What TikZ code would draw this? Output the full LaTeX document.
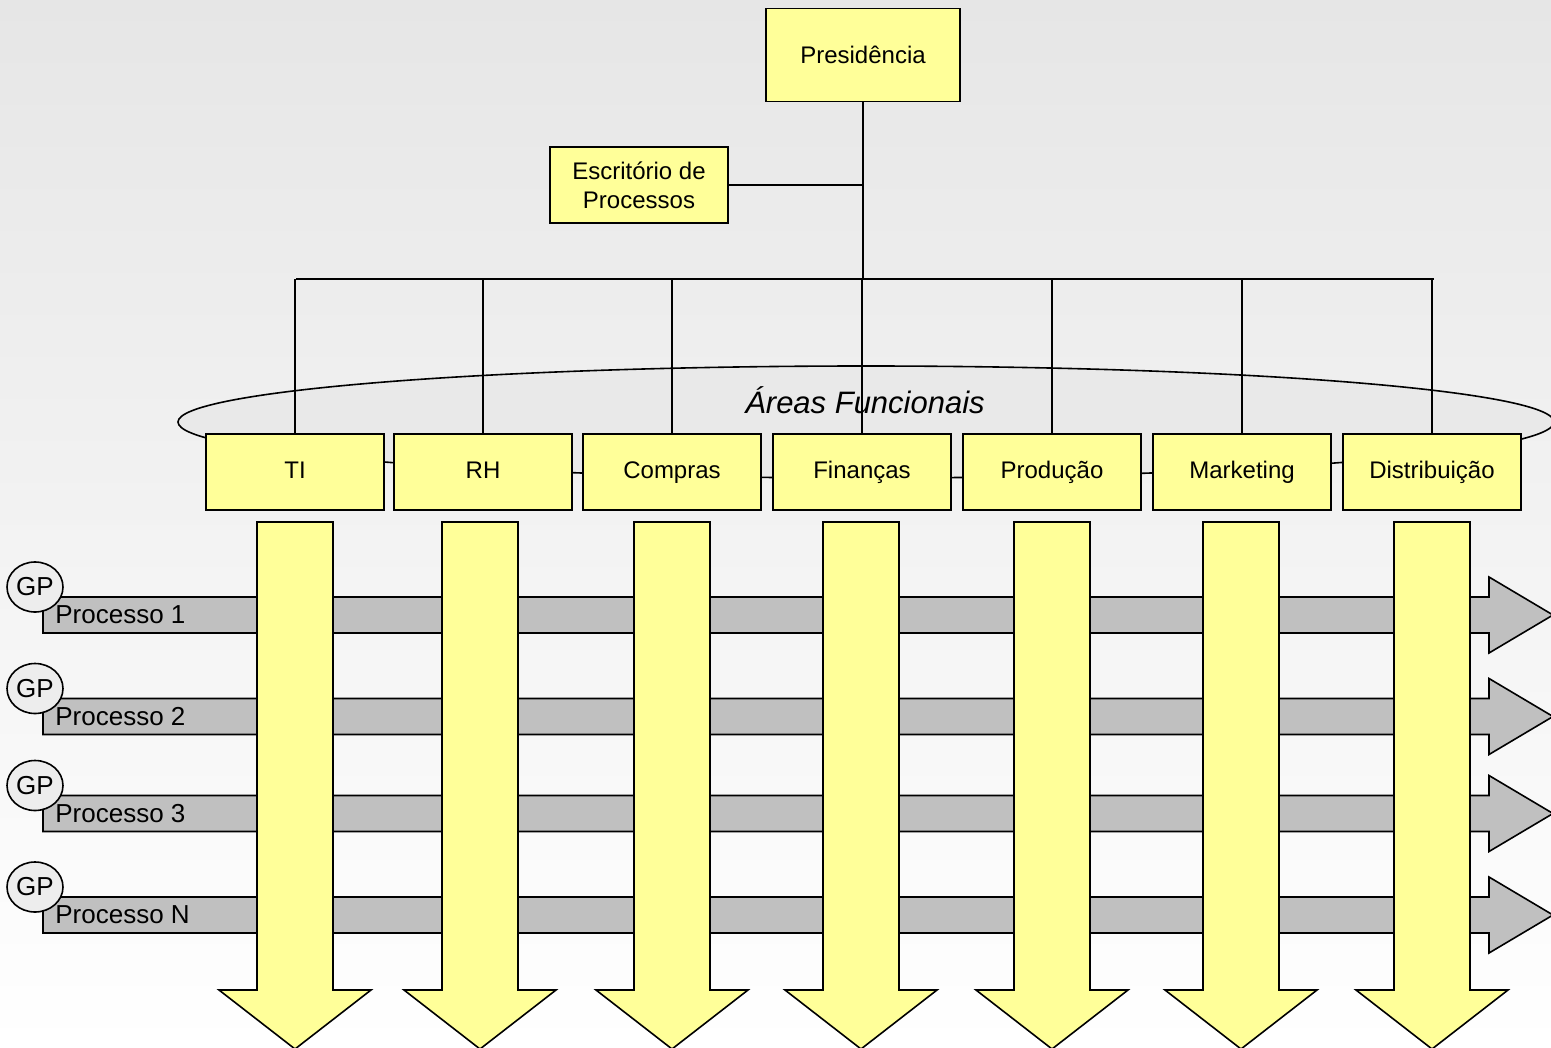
\documentclass[tikz,border=0pt]{standalone}
\usepackage{fontspec}
\setmainfont{Liberation Sans}
\usetikzlibrary{positioning,shapes.geometric}
\definecolor{amarelo}{HTML}{FFFF99}
\definecolor{cinza}{HTML}{C0C0C0}
\definecolor{fundo}{HTML}{E6E6E6}
\definecolor{elipse}{HTML}{E9E9E9}
\definecolor{bolinha}{HTML}{EDEDED}
\tikzset{
  caixa/.style={draw,fill=amarelo,line width=0.8pt,minimum width=89pt,minimum height=38pt,inner sep=0pt,align=center,font=\fontsize{12pt}{14.5pt}\selectfont},
  area/.style={caixa,text height=1.7ex,text depth=0.5ex},
  seta/.style={draw,line width=0.8pt,line join=miter},
  gp/.style={ellipse,draw,fill=bolinha,line width=0.8pt,minimum width=28pt,minimum height=25pt,inner sep=0pt,font=\fontsize{13pt}{15pt}\selectfont},
  rotulo/.style={anchor=west,inner sep=0pt,font=\fontsize{13pt}{15pt}\selectfont}
}
\begin{document}
\begin{tikzpicture}[x=0.5pt,y=-0.5pt]
	\useasboundingbox (0,0) rectangle (1551,1048);
	\shade[top color=fundo,bottom color=white] (0,0) rectangle (1551,1048);
	% elipse das areas
	\node[ellipse,draw,fill=elipse,line width=0.8pt,minimum width=688pt,minimum height=56pt] (areas) at (866,422) {};
	\node[font=\fontsize{15.5pt}{18pt}\selectfont\itshape] (areastxt) at (865,400) {Áreas Funcionais};
	% organograma
	\node[caixa,minimum width=97pt,minimum height=46.5pt] (pres) at (863,55) {Presidência};
	\node[caixa] (escr) at (639,185) {Escritório de\\Processos};
	\coordinate (busL) at (296,279);
	\coordinate (busR) at (1434,279);
	\draw[line width=0.8pt] (pres.south) -- (pres.south |- busL);
	\draw[line width=0.8pt] (escr.east) -- (escr.east -| pres.south);
	\draw[line width=0.8pt] (busL) -- (busR);
	\foreach \nome/\x/\txt in {ti/295/TI, rh/483/RH, compras/672/Compras, financas/862/Finanças, producao/1052/Produção, marketing/1242/Marketing, distrib/1432/Distribuição}{
		\node[area] (\nome) at (\x,472) {\txt};
		\draw[line width=0.8pt] (\nome.north) -- (\nome.north |- busL);
	}
	% processos
	\foreach \y/\n in {615/1, 716.5/2, 813.5/3, 915/N}{
		\draw[seta,fill=cinza] (43,\y-18) -- (1489,\y-18) -- (1489,\y-38) -- (1553,\y) -- (1489,\y+38) -- (1489,\y+18) -- (43,\y+18) -- cycle;
	}
	% setas das areas
	\foreach \x in {295,480,672,861,1052,1241,1432}{
		\draw[seta,fill=amarelo] (\x-38,522) -- (\x+38,522) -- (\x+38,990) -- (\x+76,990) -- (\x,1049) -- (\x-76,990) -- (\x-38,990) -- cycle;
	}
	\foreach \y/\n in {615/1, 716.5/2, 813.5/3, 915/N}{
		\node[gp] (gp\n) at (35,\y-28) {GP};
		\node[rotulo] (proc\n) at (55,\y) {Processo \n};
	}
\end{tikzpicture}
\end{document}
